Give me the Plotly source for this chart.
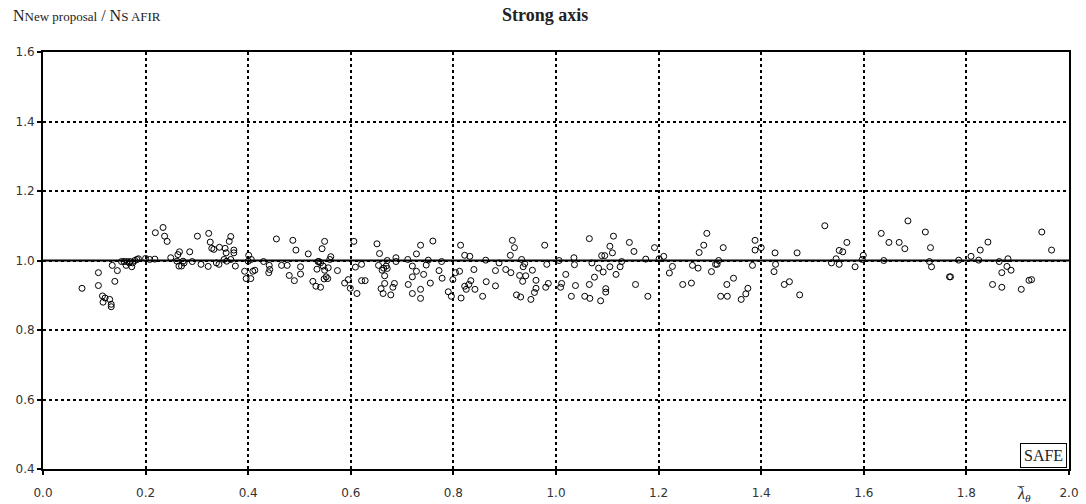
import plotly.graph_objects as go

x_vals = [
    0.076, 0.108, 0.108, 0.116, 0.117, 0.121, 0.130, 0.133, 0.133, 0.140, 0.135, 0.145, 0.153, 0.158, 0.162,
    0.164, 0.168, 0.170, 0.173, 0.175, 0.179, 0.183, 0.186, 0.200, 0.208, 0.218, 0.219, 0.234, 0.237, 0.242,
    0.249, 0.263, 0.266, 0.261, 0.265, 0.270, 0.273, 0.275, 0.286, 0.291, 0.301, 0.308, 0.322, 0.323, 0.326,
    0.329, 0.333, 0.338, 0.344, 0.343, 0.353, 0.355, 0.357, 0.358, 0.363, 0.366, 0.366, 0.372, 0.372, 0.375,
    0.393, 0.396, 0.401, 0.400, 0.405, 0.406, 0.409, 0.413, 0.430, 0.441, 0.440, 0.442, 0.455, 0.465, 0.476,
    0.480, 0.487, 0.490, 0.493, 0.502, 0.502, 0.517, 0.526, 0.532, 0.534, 0.536, 0.538, 0.541, 0.541, 0.544,
    0.546, 0.549, 0.549, 0.548, 0.552, 0.555, 0.556, 0.559, 0.561, 0.574, 0.588, 0.595, 0.599, 0.606, 0.609,
    0.612, 0.621, 0.621, 0.628, 0.651, 0.654, 0.656, 0.661, 0.664, 0.666, 0.666, 0.669, 0.671, 0.671, 0.659,
    0.663, 0.678, 0.682, 0.685, 0.688, 0.688, 0.711, 0.712,
    0.720, 0.720, 0.720, 0.728, 0.728, 0.736, 0.736, 0.736, 0.742, 0.747, 0.751, 0.755, 0.760, 0.772, 0.777,
    0.778, 0.790, 0.796, 0.799, 0.804, 0.812, 0.814, 0.815, 0.822, 0.822, 0.825, 0.830, 0.832, 0.834, 0.840,
    0.842, 0.857, 0.863, 0.864, 0.882, 0.882, 0.889, 0.902, 0.911, 0.912, 0.915, 0.919, 0.923, 0.929, 0.931,
    0.933, 0.936, 0.935, 0.939, 0.941, 0.951, 0.954, 0.958, 0.961, 0.961, 0.978, 0.982, 0.980, 0.985, 1.006,
    1.009, 1.011, 1.019, 1.030, 1.035, 1.036, 1.038,
    1.056, 1.065, 1.065, 1.066, 1.070, 1.075, 1.083, 1.087, 1.089, 1.092, 1.095, 1.097, 1.097, 1.105, 1.105,
    1.110, 1.112, 1.117, 1.125, 1.128, 1.143, 1.152, 1.155, 1.175, 1.179, 1.192, 1.201, 1.210, 1.221, 1.227,
    1.247, 1.264, 1.266, 1.277, 1.279, 1.288, 1.294, 1.303, 1.311, 1.314, 1.317, 1.321, 1.326, 1.333, 1.334,
    1.346, 1.361, 1.370, 1.374,
    1.383, 1.388, 1.388, 1.400, 1.425, 1.427, 1.428, 1.445, 1.455, 1.470, 1.475, 1.524, 1.537, 1.546, 1.552,
    1.552, 1.559, 1.567, 1.583, 1.597, 1.599, 1.634, 1.639, 1.649, 1.669, 1.680, 1.686,
    1.720, 1.730, 1.728, 1.732, 1.767, 1.769, 1.785, 1.809, 1.827, 1.824, 1.842, 1.851, 1.864, 1.869, 1.869,
    1.879, 1.881, 1.887, 1.907, 1.922, 1.927, 1.947, 1.966,
]

y_vals = [
    0.920, 0.965, 0.928, 0.898, 0.880, 0.892, 0.888, 0.874, 0.867, 0.940, 0.986, 0.971, 0.997, 0.997, 0.986,
    0.997, 0.993, 0.997, 0.982, 0.993, 1.000, 1.003, 1.005, 1.006, 1.003, 1.004, 1.080, 1.095, 1.070, 1.055,
    1.008, 1.017, 1.025, 0.998, 0.984, 0.984, 0.998, 0.993, 1.025, 0.997, 1.070, 0.989, 0.983, 1.078, 1.053,
    1.035, 1.032, 0.993, 1.038, 0.989, 1.003, 1.035, 1.022, 0.998, 1.055, 1.069, 1.003, 1.030, 1.022, 0.984,
    0.969, 0.948, 1.015, 0.998, 0.948, 1.003, 0.969, 0.972, 0.997, 0.986, 0.965, 0.974, 1.062, 0.986, 0.986,
    0.957, 1.058, 0.942, 1.030, 0.982, 0.961, 1.019, 0.940, 0.926, 0.975, 0.997, 0.997, 0.993, 0.923, 1.034,
    0.984, 1.055, 0.972, 0.947, 0.953, 0.948, 0.979, 1.003, 1.011, 0.971, 0.935, 0.945, 0.920, 1.055, 0.981,
    0.905, 0.989, 0.942, 0.942, 1.048, 0.986, 1.020, 0.972, 0.978, 0.956, 0.934, 0.984, 1.000, 0.977, 0.919,
    0.905, 0.901, 0.923, 0.934, 1.008, 0.997, 1.003, 0.931,
    0.984, 0.953, 0.905, 1.019, 0.969, 1.044, 0.917, 0.891, 0.960, 0.987, 1.001, 0.935, 1.056, 0.971, 0.997,
    0.949, 0.910, 0.897, 0.945, 0.965, 0.969, 1.044, 0.892, 1.015, 0.926, 0.917, 0.931, 1.012, 0.942, 0.974,
    0.917, 0.897, 1.001, 0.939, 0.971, 0.927, 0.993, 0.974, 1.015, 0.965, 1.058, 1.037, 0.901, 0.957, 0.895,
    1.003, 0.982, 0.940, 0.991, 0.956, 0.888, 0.972, 0.908, 0.920, 0.943, 1.044, 0.989, 0.923, 0.934, 1.000,
    0.923, 0.934, 0.960, 0.897, 1.008, 0.988, 0.928,
    0.897, 1.063, 0.931, 0.891, 0.993, 0.952, 0.978, 0.884, 1.014, 0.967, 1.014, 0.919, 0.909, 1.041, 0.982,
    1.022, 1.070, 0.960, 0.982, 0.997, 1.052, 1.026, 0.931, 1.004, 0.897, 1.037, 1.005, 1.012, 0.964, 0.983,
    0.931, 0.935, 0.986, 0.978, 1.023, 1.044, 1.078, 0.968, 0.989, 0.989, 1.000, 0.897, 1.037, 0.931, 0.897,
    0.949, 0.888, 0.904, 0.920,
    0.986, 1.058, 1.030, 1.037, 0.968, 1.022, 0.989, 0.931, 0.939, 1.022, 0.901, 1.100, 0.993, 1.005, 1.029,
    0.989, 1.025, 1.052, 0.982, 1.003, 1.015, 1.078, 1.000, 1.052, 1.052, 1.034, 1.114,
    1.082, 1.037, 0.997, 0.982, 0.953, 0.953, 1.001, 1.012, 1.030, 1.001, 1.053, 0.931, 0.997, 0.965, 0.923,
    0.983, 1.005, 0.972, 0.917, 0.943, 0.945, 1.082, 1.030,
]

x_ticks = [0.0, 0.2, 0.4, 0.6, 0.8, 1.0, 1.2, 1.4, 1.6, 1.8, 2.0]
x_tick_labels = ["0.0", "0.2", "0.4", "0.6", "0.8", "1.0", "1.2", "1.4", "1.6", "1.8", "2.0"]
y_ticks = [0.4, 0.6, 0.8, 1.0, 1.2, 1.4, 1.6]
y_tick_labels = ["0.4", "0.6", "0.8", "1.0", "1.2", "1.4", "1.6"]
reference_level = 1.0

serif = "Liberation Serif, Times New Roman, serif"
sans = "DejaVu Sans, Verdana, sans-serif"

fig = go.Figure()
fig.add_trace(go.Scatter(
    x=x_vals, y=y_vals, mode="markers",
    marker=dict(symbol="circle-open", size=6, color="black", line=dict(width=1, color="black")),
    showlegend=False, hoverinfo="x+y",
))

fig.add_shape(type="line", xref="paper", yref="y", x0=0, x1=1, y0=reference_level, y1=reference_level,
              line=dict(color="black", width=2), layer="above")

fig.update_layout(
    width=1086, height=504,
    margin=dict(l=43, r=17, t=52, b=35, autoexpand=False),
    paper_bgcolor="white", plot_bgcolor="white",
    font=dict(family=serif, color="black"),
    xaxis=dict(
        range=[0, 2.0], tickmode="array", tickvals=x_ticks, ticktext=x_tick_labels,
        showgrid=True, gridcolor="black", gridwidth=1.5, griddash="dot",
        showline=True, linecolor="black", linewidth=2, mirror=True,
        ticks="outside", ticklen=4, tickcolor="black", tickwidth=1.5,
        ticklabelstandoff=8, automargin=False,
        tickfont=dict(family=sans, size=12, color="#333333"),
        zeroline=False,
    ),
    yaxis=dict(
        range=[0.4, 1.6], tickmode="array", tickvals=y_ticks, ticktext=y_tick_labels,
        showgrid=True, gridcolor="black", gridwidth=1.5, griddash="dot",
        showline=True, linecolor="black", linewidth=2, mirror=True,
        ticks="outside", ticklen=4, tickcolor="black", tickwidth=1.5,
        automargin=False,
        tickfont=dict(family=sans, size=12, color="#333333"),
        zeroline=False,
    ),
    annotations=[
        dict(text="<b>Strong axis</b>", xref="paper", yref="paper", x=0.489, y=1.0, yshift=37,
             xanchor="center", yanchor="middle", showarrow=False,
             font=dict(family=serif, size=18, color="#222222")),
        dict(text="N<span style='font-size:13px'>New proposal</span> / N<span style='font-size:13px'>S AFIR</span>",
             xref="paper", yref="paper", x=0, xshift=-32, y=1.0, yshift=37,
             xanchor="left", yanchor="middle", showarrow=False,
             font=dict(family=serif, size=16, color="#222222")),
        dict(text="SAFE", xref="x", yref="y", x=2.0, y=0.4, xanchor="right", yanchor="bottom",
             showarrow=False, bordercolor="black", borderwidth=1, bgcolor="white", borderpad=3,
             xshift=-2, yshift=1,
             font=dict(family=serif, size=16, color="#222222")),
        dict(text="<i>λ</i><sub><i>θ</i></sub>", xref="x", yref="paper", x=1.912, y=0, yshift=-25,
             xanchor="center", yanchor="middle", showarrow=False,
             font=dict(family=serif, size=16, color="#222222")),
        dict(text="\u203e", xref="x", yref="paper", x=1.906, y=0, yshift=-25,
             xanchor="center", yanchor="middle", showarrow=False,
             font=dict(family=serif, size=17, color="#222222")),
    ],
)

fig.write_html("out.html")
